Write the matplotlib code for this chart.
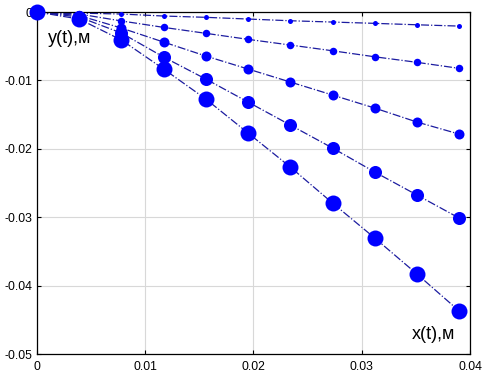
import numpy as np
import matplotlib.pyplot as plt

plt.rcParams['font.family'] = ['Liberation Sans', 'DejaVu Sans']

# x positions of the time steps, m
x = [0, 0.0039, 0.0078, 0.0117, 0.0156, 0.0195, 0.0234, 0.0273, 0.0312, 0.0351, 0.039]

# y(t) of each trajectory, m
y1 = [0, -0.00015, -0.00029, -0.00058, -0.00077, -0.00102, -0.00127, -0.00146, -0.00165, -0.00186, -0.00205]
y2 = [0, -0.00029, -0.0013, -0.00224, -0.00311, -0.00399, -0.00482, -0.00566, -0.00654, -0.00735, -0.00823]
y3 = [0, -0.00051, -0.00234, -0.00439, -0.00643, -0.00833, -0.01023, -0.01213, -0.01404, -0.01608, -0.01784]
y4 = [0, -0.00073, -0.00307, -0.00658, -0.0098, -0.01316, -0.01652, -0.01988, -0.02339, -0.02675, -0.03012]
y5 = [0, -0.00102, -0.00409, -0.00833, -0.01272, -0.01769, -0.02266, -0.02792, -0.03304, -0.0383, -0.04371]
series = [y1, y2, y3, y4, y5]
marker_sizes = [3.6, 5.4, 7.2, 9.4, 11.5]

xticks = [0, 0.01, 0.02, 0.03, 0.04]
yticks = [-0.05, -0.04, -0.03, -0.02, -0.01, 0]

fig = plt.figure(figsize=(4.85, 3.77), dpi=100)
ax = fig.add_axes([0.0763, 0.061, 0.969 - 0.0763, 0.968 - 0.061])

# lines first, then the markers on top (largest last)
for ys in series:
    ax.plot(x, ys, linestyle='-.', color='#1c1ca0', linewidth=0.9)
for ys, ms in zip(series, marker_sizes):
    ax.plot(x, ys, linestyle='none', marker='o', markersize=ms,
            color='#0000ff', markeredgewidth=0, clip_on=False, zorder=3)

ax.set_xlim(0, 0.04)
ax.set_ylim(-0.05, 0)
ax.set_xticks(xticks)
ax.set_xticklabels(['0', '0.01', '0.02', '0.03', '0.04'])
ax.set_yticks(yticks)
ax.set_yticklabels(['-0.05', '-0.04', '-0.03', '-0.02', '-0.01', '0'])
ax.tick_params(direction='in', length=3, width=0.8, labelsize=8.8, top=True, right=True,
               colors='black')
ax.tick_params(axis='x', pad=5)
ax.tick_params(axis='y', pad=3)
ax.grid(True, color='#d8d8d8', linewidth=0.8)
ax.set_axisbelow(True)
for s in ax.spines.values():
    s.set_linewidth(0.9)
    s.set_color('black')

ax.text(0.00305, -0.0038, 'y(t),м', fontsize=13, ha='center', va='center')
ax.text(0.03667, -0.0472, 'x(t),м', fontsize=13, ha='center', va='center')

fig.savefig('out.png', dpi=100)
